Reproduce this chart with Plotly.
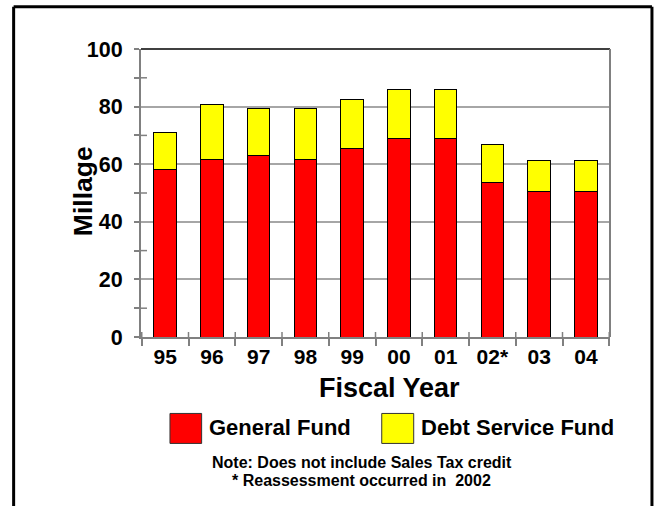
import plotly.graph_objects as go

# ---- data ----
years = ["95", "96", "97", "98", "99", "00", "01", "02*", "03", "04"]
general_fund = [58.3, 61.6, 63.0, 61.7, 65.3, 68.9, 68.9, 53.5, 50.5, 50.5]
debt_service = [12.7, 19.2, 16.3, 17.6, 17.1, 17.0, 17.0, 13.2, 10.7, 10.7]
y_ticks = [0, 20, 40, 60, 80, 100]
minor_ticks = [10, 30, 50, 70, 90]
series_names = ["General Fund", "Debt Service Fund"]
series_colors = ["#FF0000", "#FFFF00"]
notes = ["Note: Does not include Sales Tax credit", "* Reassessment occurred in \u00a02002"]

# ---- geometry helpers ----
W, H = 654, 506
L, R, T, B = 141, 43.5, 49.3, 168.5
pw = W - L - R
ph = H - T - B


def px(x):
    return (x - L) / pw


def py(y):
    return (H - B - y) / ph


FONT = "Arial, 'Liberation Sans', sans-serif"
GRAY = "#808080"

fig = go.Figure()
for name, vals, col in zip(series_names, [general_fund, debt_service], series_colors):
    fig.add_trace(go.Bar(
        x=years, y=vals, name=name,
        marker=dict(color=col, line=dict(color="black", width=1)),
        showlegend=False,
    ))

shapes = []
# plot top (black) and right (gray) borders
shapes.append(dict(type="line", xref="paper", yref="paper", x0=0, x1=1, y0=1, y1=1,
                   line=dict(color="black", width=1.5)))
shapes.append(dict(type="line", xref="paper", yref="paper", x0=1, x1=1, y0=0, y1=1,
                   line=dict(color=GRAY, width=2)))
# inside parts of crossing minor y ticks
for v in minor_ticks:
    shapes.append(dict(type="line", xref="paper", yref="y", x0=0, x1=px(L + 6), y0=v, y1=v,
                       line=dict(color=GRAY, width=1.5)))
# inside parts of crossing x ticks (category boundaries)
for i in range(len(years) + 1):
    shapes.append(dict(type="line", xref="x", yref="paper", x0=i - 0.5, x1=i - 0.5,
                       y0=0, y1=py(H - B - 5), line=dict(color=GRAY, width=1.5)))
# outer frame
fx0, fx1, fy0 = px(13.5), px(652.5), py(7)
shapes.append(dict(type="line", xref="paper", yref="paper", x0=fx0, x1=fx0, y0=fy0, y1=py(530),
                   line=dict(color="black", width=3)))
shapes.append(dict(type="line", xref="paper", yref="paper", x0=fx1, x1=fx1, y0=fy0, y1=py(530),
                   line=dict(color="black", width=3)))
shapes.append(dict(type="line", xref="paper", yref="paper", x0=fx0, x1=fx1, y0=fy0, y1=fy0,
                   line=dict(color="black", width=3)))
# legend swatches
sw = [(170, 201.7), (382, 414)]
for (a, b), col in zip(sw, series_colors):
    shapes.append(dict(type="rect", xref="paper", yref="paper", x0=px(a), x1=px(b),
                       y0=py(444), y1=py(414), fillcolor=col, line=dict(color="#333333", width=1)))

annotations = []
# legend labels
for (a, b), name in zip(sw, series_names):
    annotations.append(dict(xref="paper", yref="paper", x=px(b + 5.5), y=py(428.5),
                            xanchor="left", yanchor="middle", text=name, showarrow=False,
                            font=dict(family=FONT, size=22, color="black", weight="bold")))
# notes
for k, note in enumerate(notes):
    annotations.append(dict(xref="paper", yref="paper", x=px(362), y=py(463 + 18.5 * k),
                            xanchor="center", yanchor="middle", text=note, showarrow=False,
                            font=dict(family=FONT, size=16, color="black", weight="bold")))
# axis titles
annotations.append(dict(xref="paper", yref="paper", x=px(390), y=py(389),
                        xanchor="center", yanchor="middle", text="Fiscal Year", showarrow=False,
                        font=dict(family=FONT, size=27, color="black", weight="bold")))
annotations.append(dict(xref="paper", yref="paper", x=px(83), y=py(191.5),
                        xanchor="center", yanchor="middle", text="Millage", showarrow=False,
                        textangle=-90,
                        font=dict(family=FONT, size=26.5, color="black", weight="bold")))

fig.update_layout(
    width=W, height=H,
    margin=dict(l=L, r=R, t=T, b=B),
    paper_bgcolor="white", plot_bgcolor="white",
    barmode="stack", bargap=0.523,
    shapes=shapes, annotations=annotations,
    xaxis=dict(
        type="category", showline=True, linecolor=GRAY, linewidth=2,
        ticks="outside", tickson="boundaries", ticklen=7, tickcolor=GRAY, tickwidth=1.5,
        showgrid=False, zeroline=False,
        tickfont=dict(family=FONT, size=21, color="black", weight="bold"),
    ),
    yaxis=dict(
        range=[0, 100], tickvals=y_ticks, showline=True, linecolor=GRAY, linewidth=2,
        ticks="outside", ticklen=5, tickcolor=GRAY, tickwidth=1.5,
        minor=dict(tickvals=minor_ticks, ticks="outside", ticklen=5, tickcolor=GRAY, tickwidth=1.5),
        showgrid=True, gridcolor="#a6a6a6", gridwidth=1.5, zeroline=False,
        ticklabelstandoff=7,
        tickfont=dict(family=FONT, size=21.5, color="black", weight="bold"),
    ),
)

fig.write_html("out.html")
